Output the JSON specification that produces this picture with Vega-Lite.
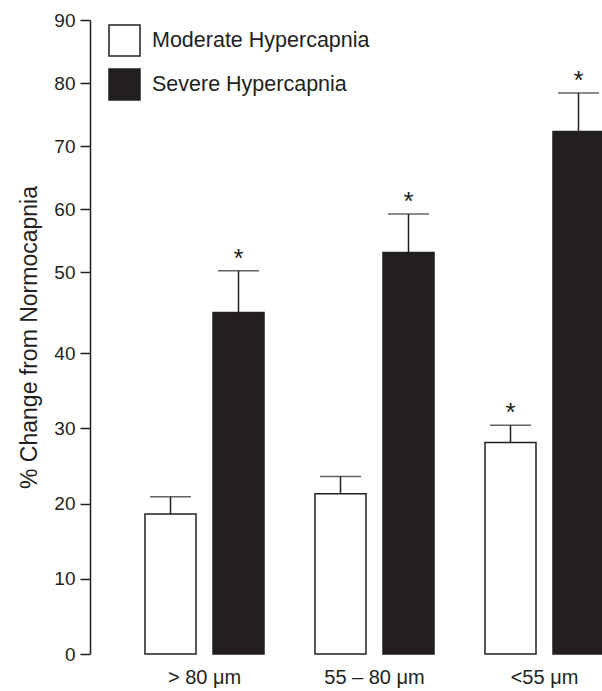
{
  "$schema": "https://vega.github.io/schema/vega-lite/v6.json",
  "autosize": "none",
  "width": 512,
  "height": 634,
  "padding": {"left": 90, "top": 20, "right": 0, "bottom": 37},
  "background": "white",
  "config": {
    "view": {"stroke": null},
    "font": "Liberation Sans",
    "axis": {"grid": false, "labelColor": "#231f20", "titleColor": "#231f20", "labelFont": "Liberation Sans", "titleFont": "Liberation Sans"}
  },
  "data": {
    "values": [
      {"size": "> 80 μm", "group": "Moderate Hypercapnia", "value": 18.6, "upper": 20.9, "sig": ""},
      {"size": "> 80 μm", "group": "Severe Hypercapnia", "value": 45.0, "upper": 50.2, "sig": "*"},
      {"size": "55 – 80 μm", "group": "Moderate Hypercapnia", "value": 21.3, "upper": 23.6, "sig": ""},
      {"size": "55 – 80 μm", "group": "Severe Hypercapnia", "value": 53.1, "upper": 59.2, "sig": "*"},
      {"size": "<55 μm", "group": "Moderate Hypercapnia", "value": 28.1, "upper": 30.4, "sig": "*"},
      {"size": "<55 μm", "group": "Severe Hypercapnia", "value": 72.3, "upper": 78.4, "sig": "*"}
    ]
  },
  "encoding": {
    "x": {
      "field": "size", "type": "nominal", "sort": null,
      "scale": {"range": [29.5, 539.5], "paddingInner": 0.3, "paddingOuter": 0.15},
      "axis": {"title": null, "domain": false, "ticks": false, "labelAngle": 0, "labelFontSize": 20, "labelPadding": 13}
    },
    "xOffset": {
      "field": "group", "type": "nominal", "sort": null,
      "scale": {"paddingInner": 0.25, "paddingOuter": 0}
    }
  },
  "layer": [
    {
      "mark": {"type": "bar", "stroke": "#231f20", "strokeWidth": 1.5},
      "encoding": {
        "y": {
          "field": "value", "type": "quantitative",
          "scale": {"domain": [0, 40, 50, 90], "range": [634, 333, 252, 0], "nice": false, "zero": false},
          "axis": {
            "title": "% Change from Normocapnia", "titleFontSize": 23, "titleFontWeight": "normal", "titlePadding": 12,
            "values": [0, 5, 10, 15, 20, 25, 30, 35, 40, 45, 50, 55, 60, 65, 70, 75, 80, 85, 90],
            "labelExpr": "datum.value % 10 === 0 ? datum.label : ''",
            "labelFontSize": 19, "labelPadding": 5, "tickSize": 10, "tickWidth": 1.5,
            "tickColor": "#231f20", "domainColor": "#231f20", "domainWidth": 1.5
          }
        },
        "fill": {
          "field": "group", "type": "nominal",
          "scale": {"domain": ["Moderate Hypercapnia", "Severe Hypercapnia"], "range": ["#ffffff", "#231f20"]},
          "legend": {
            "title": null, "orient": "none", "legendX": 18, "legendY": 4,
            "symbolType": "square", "symbolSize": 961, "symbolStrokeColor": "#231f20", "symbolStrokeWidth": 1.5,
            "labelFontSize": 21.5, "labelColor": "#231f20", "labelOffset": 11, "labelLimit": 0, "rowPadding": 7, "padding": 0
          }
        }
      }
    },
    {
      "mark": {"type": "rule", "color": "#231f20", "strokeWidth": 1.5},
      "encoding": {
        "y": {"field": "value", "type": "quantitative"},
        "y2": {"field": "upper"}
      }
    },
    {
      "mark": {"type": "tick", "color": "#231f20", "thickness": 1.5, "size": 41},
      "encoding": {
        "y": {"field": "upper", "type": "quantitative"}
      }
    },
    {
      "mark": {"type": "text", "color": "#231f20", "fontSize": 26, "baseline": "middle", "dy": -12},
      "encoding": {
        "y": {"field": "upper", "type": "quantitative"},
        "text": {"field": "sig"}
      }
    }
  ]
}
